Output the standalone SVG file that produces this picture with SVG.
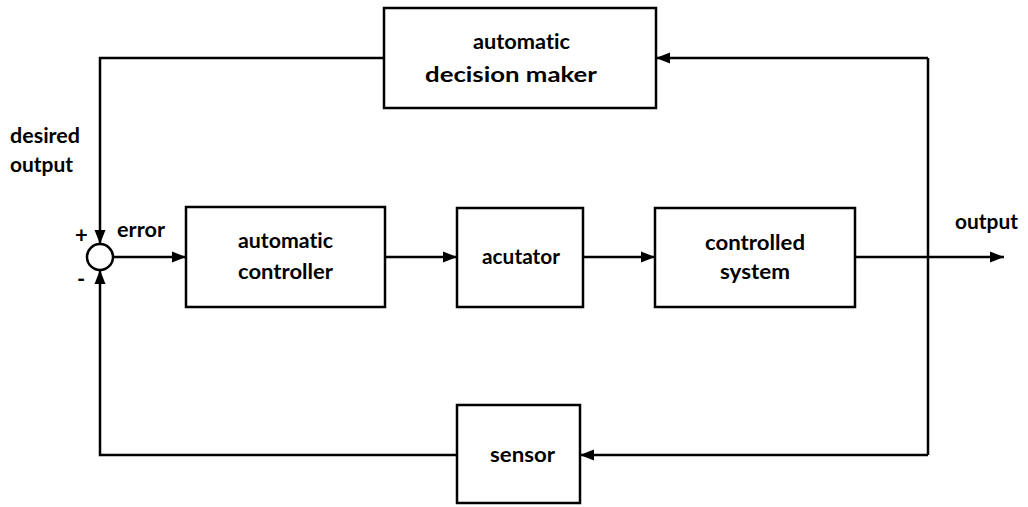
<svg xmlns="http://www.w3.org/2000/svg" width="1028" height="507" viewBox="0 0 1028 507">
<style>
.box{fill:#fff;stroke:#000;stroke-width:2.5}
.ln{fill:none;stroke:#000;stroke-width:2.5}
text{font-family:Lato,"Open Sans",sans-serif;font-weight:bold;font-size:20px;fill:#000;font-variant-ligatures:none}
.pm{font-size:22px}
</style>
<defs>
<marker id="ah" markerUnits="userSpaceOnUse" markerWidth="16" markerHeight="12" refX="14" refY="6" orient="auto">
<path d="M0,0.5 L14,6 L0,11.5 Z" fill="#000"/>
</marker>
</defs>
<g id="connectors">
<path class="ln" d="M113,257 H186" marker-end="url(#ah)"/>
<path class="ln" d="M385,257 H457" marker-end="url(#ah)"/>
<path class="ln" d="M583,257 H655" marker-end="url(#ah)"/>
<path class="ln" d="M855,257 H1004" marker-end="url(#ah)"/>
<path class="ln" d="M928,58 V455"/>
<path class="ln" d="M928,58 H656" marker-end="url(#ah)"/>
<path class="ln" d="M928,455 H580" marker-end="url(#ah)"/>
<path class="ln" d="M384,58 H100 V244" marker-end="url(#ah)"/>
<path class="ln" d="M457,455 H100 V270" marker-end="url(#ah)"/>
</g>
<g id="sum">
<circle cx="100" cy="257" r="13" class="box"/>
<text class="pm" x="75" y="243">+</text>
<text class="pm" x="77" y="287">-</text>
</g>
<g id="decision-maker">
<rect class="box" x="384" y="8" width="272" height="100"/>
<text x="473" y="49" textLength="97" lengthAdjust="spacingAndGlyphs">automatic</text>
<text x="425" y="82" textLength="172" lengthAdjust="spacingAndGlyphs">decision maker</text>
</g>
<g id="controller">
<rect class="box" x="186" y="207" width="199" height="100"/>
<text x="238" y="248" textLength="95" lengthAdjust="spacingAndGlyphs">automatic</text>
<text x="238" y="279" textLength="95" lengthAdjust="spacingAndGlyphs">controller</text>
</g>
<g id="acutator">
<rect class="box" x="457" y="208" width="126" height="99"/>
<text x="482" y="264" textLength="78" lengthAdjust="spacingAndGlyphs">acutator</text>
</g>
<g id="controlled-system">
<rect class="box" x="655" y="208" width="200" height="99"/>
<text x="705" y="250" textLength="100" lengthAdjust="spacingAndGlyphs">controlled</text>
<text x="720" y="279" textLength="70" lengthAdjust="spacingAndGlyphs">system</text>
</g>
<g id="sensor">
<rect class="box" x="457" y="405" width="123" height="98"/>
<text x="490" y="462" textLength="65" lengthAdjust="spacingAndGlyphs">sensor</text>
</g>
<g id="labels">
<text x="10" y="143" textLength="70" lengthAdjust="spacingAndGlyphs">desired</text>
<text x="10" y="172" textLength="63" lengthAdjust="spacingAndGlyphs">output</text>
<text x="117" y="237" textLength="48" lengthAdjust="spacingAndGlyphs">error</text>
<text x="955" y="229" textLength="63" lengthAdjust="spacingAndGlyphs">output</text>
</g>
</svg>
